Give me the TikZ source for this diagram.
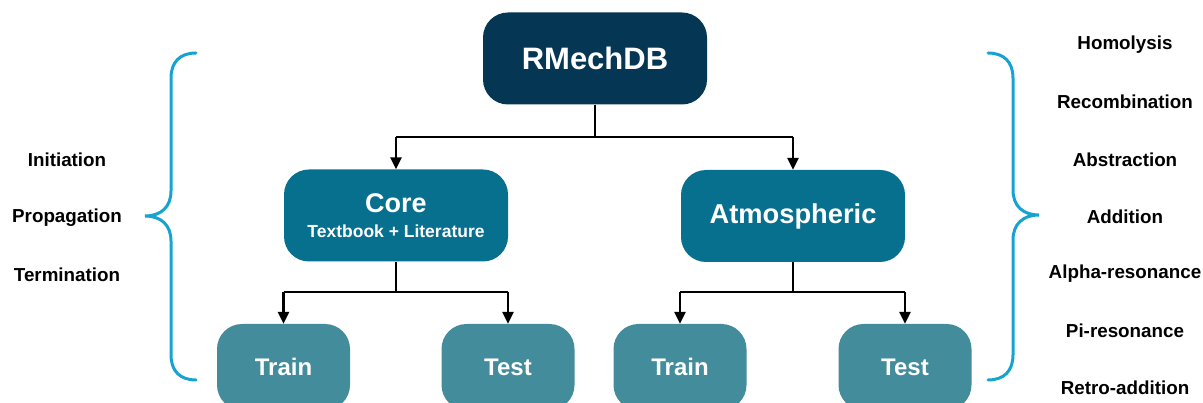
\documentclass[tikz,border=0pt]{standalone}
\usepackage{fontspec}
\setmainfont{Liberation Sans}
\usetikzlibrary{arrows.meta}
\definecolor{navy}{HTML}{053654}
\definecolor{midteal}{HTML}{07708F}
\definecolor{lightteal}{HTML}{428C9B}
\definecolor{bracecol}{HTML}{16A3D2}
\tikzset{
  box/.style={rounded corners=25pt, inner sep=0pt, align=center, text=white, font=\bfseries},
  topbox/.style={box, fill=navy, minimum width=224pt, minimum height=92pt, font=\fontsize{31}{36}\bfseries\selectfont},
  midbox/.style={box, fill=midteal, minimum width=224pt, minimum height=92pt},
  leafbox/.style={box, fill=lightteal, minimum width=133pt, minimum height=86pt, font=\fontsize{24}{28}\bfseries\selectfont},
  conn/.style={draw=black, line width=1.4pt},
  arr/.style={draw=black, line width=2.8pt, -{Triangle[width=11pt,length=12pt]}},
  brace/.style={draw=bracecol, line width=3pt, line cap=round},
  lbl/.style={font=\fontsize{18.8}{22}\bfseries\selectfont, text=black, inner sep=0pt}
}
\begin{document}
\begin{tikzpicture}[x=1pt,y=-1pt]
\useasboundingbox (0,0) rectangle (1203,403);
% main nodes
\node[topbox] (rm) at (595,58.5) {RMechDB};
\node[midbox, font=\fontsize{17.5}{25}\bfseries\selectfont, text depth=-3pt] (core) at (396,215.5) {{\fontsize{27}{30}\bfseries\selectfont Core}\\Textbook + Literature};
\node[midbox, font=\fontsize{27.3}{32}\bfseries\selectfont] (atm) at (793,216) {Atmospheric};
\node[leafbox] (tr1) at (283.5,367) {Train};
\node[leafbox] (te1) at (508,367) {Test};
\node[leafbox] (tr2) at (680,367) {Train};
\node[leafbox] (te2) at (905,367) {Test};
% connectors
\coordinate (j1) at (595,137);
\coordinate (j2) at (396,292);
\coordinate (j3) at (793,292);
\draw[conn] (rm.south) -- (j1);
\draw[conn] (core.north |- j1) -- (atm.north |- j1);
\draw[arr] (core.north |- j1) -- (core.north);
\draw[arr] (atm.north |- j1) -- (atm.north);
\draw[conn] (core.south) -- (j2);
\draw[conn] (tr1.north |- j2) -- (te1.north |- j2);
\draw[arr] (tr1.north |- j2) -- (tr1.north);
\draw[arr] (te1.north |- j2) -- (te1.north);
\draw[conn] (atm.south) -- (j3);
\draw[conn] (tr2.north |- j3) -- (te2.north |- j3);
\draw[arr] (tr2.north |- j3) -- (tr2.north);
\draw[arr] (te2.north |- j3) -- (te2.north);
% braces
\draw[brace] (196,53) .. controls (180,53) and (171,62) .. (171,78) -- (171,191)
  .. controls (171,207) and (161,216) .. (145,216)
  .. controls (161,216) and (171,225) .. (171,241) -- (171,355)
  .. controls (171,371) and (180,380) .. (196,380);
\draw[brace] (988,53) .. controls (1004,53) and (1013,62) .. (1013,78) -- (1013,190)
  .. controls (1013,206) and (1023,215) .. (1039,215)
  .. controls (1023,215) and (1013,224) .. (1013,240) -- (1013,355)
  .. controls (1013,371) and (1004,380) .. (988,380);
% left labels
\node[lbl] (l1) at (67,160) {Initiation};
\node[lbl] (l2) at (67,218) {Propagation};
\node[lbl] (l3) at (67,275) {Termination};
% right labels
\node[lbl] (r1) at (1125,45) {Homolysis};
\node[lbl] (r2) at (1125,102) {Recombination};
\node[lbl] (r3) at (1125,160) {Abstraction};
\node[lbl] (r4) at (1125,217) {Addition};
\node[lbl] (r5) at (1125,274) {Alpha-resonance};
\node[lbl] (r6) at (1125,331) {Pi-resonance};
\node[lbl] (r7) at (1125,388) {Retro-addition};
\end{tikzpicture}
\end{document}
